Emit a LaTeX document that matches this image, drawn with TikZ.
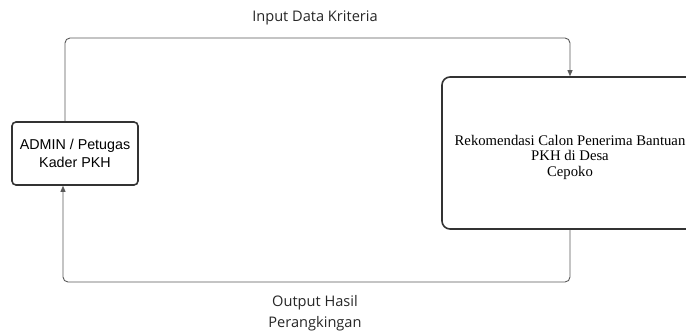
\documentclass[tikz,border=0pt]{standalone}
\usepackage{fontspec}
\setmainfont{Liberation Serif}
\newfontfamily\arialfont{Liberation Sans}
\newfontfamily\opensans{Open Sans}
\usetikzlibrary{arrows.meta,positioning}

\begin{document}
\begin{tikzpicture}[
		x=1pt, y=-1pt,
		actor/.style={draw=black!80, line width=1.6pt, rounded corners=4pt, minimum width=126pt, minimum height=63pt, align=center, font=\arialfont\fontsize{14.3}{18}\selectfont},
		proc/.style={draw=black!80, line width=1.6pt, rounded corners=8pt, minimum width=256pt, minimum height=152pt, align=center, font=\fontsize{14.7}{15.5}\selectfont},
		flow/.style={draw=black!65, line width=0.9pt, rounded corners=5pt, -{Triangle[length=6pt,width=5pt]}},
		lbl/.style={align=center, font=\opensans\fontsize{14.6}{20.5}\selectfont, text=black!85}
	]
	\useasboundingbox (0,0) rectangle (686,330);
	\begin{scope}
	\clip (0,0) rectangle (686,330);
	\node[actor] (admin) at (75,153.5) {ADMIN / Petugas\\Kader PKH};
	\node[proc] (rekom) at (570,153) {};
	\node[align=center, font=\fontsize{14.7}{15.5}\selectfont] (rekomtxt) at (570,157) {Rekomendasi Calon Penerima Bantuan\\PKH di Desa\\Cepoko};
	\end{scope}

	\coordinate (topl) at (65,38);
	\coordinate (botl) at (63,282);

	\draw[flow] ([xshift=-10pt]admin.north) -- (topl) -- (topl -| rekom.north) -- (rekom.north);
	\draw[flow] (rekom.south) -- (botl -| rekom.south) -- (botl) -- ([xshift=-12pt]admin.south);

	\node[lbl] (inp) at (315,18) {Input Data Kriteria};
	\node[lbl] (outp) at (315,313) {Output Hasil\\Perangkingan};
\end{tikzpicture}
\end{document}
